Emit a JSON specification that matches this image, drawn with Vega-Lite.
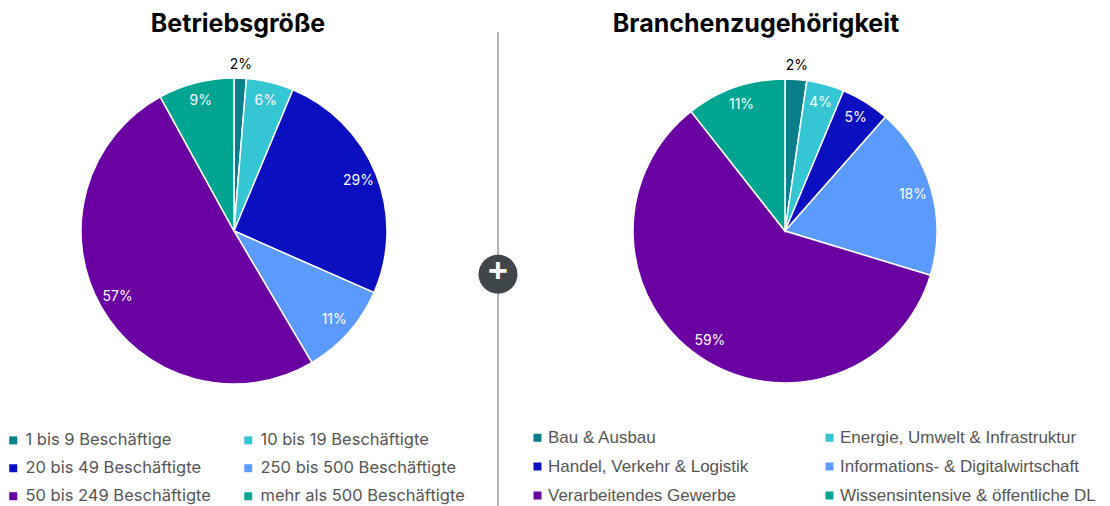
{
  "$schema": "https://vega.github.io/schema/vega-lite/v6.json",
  "padding": {"top": 12, "left": 0, "right": 0, "bottom": 0},
  "spacing": 0,
  "bounds": "flush",
  "config": {
    "view": {"stroke": null},
    "font": "Inter",
    "legend": {
      "orient": "none",
      "columns": 2,
      "symbolType": "square",
      "symbolSize": 64,
      "symbolStrokeWidth": 0,
      "labelFontSize": 16.5,
      "labelColor": "#555555",
      "labelFont": "Inter",
      "labelLimit": 0,
      "rowPadding": 11,
      "title": null
    }
  },
  "resolve": {"scale": {"color": "independent", "theta": "independent"}, "legend": {"color": "independent"}},
  "hconcat": [
    {
      "width": 468,
      "height": 398,
      "title": {"text": "Betriebsgröße", "font": "Inter", "fontSize": 25, "fontWeight": "bold", "color": "#000000", "anchor": "middle", "offset": -5, "dx": 4},
      "data": {"values": [
        {"cat": "1 bis 9 Beschäftige", "share": 1.3, "label": "2%"},
        {"cat": "10 bis 19 Beschäftigte", "share": 5.0, "label": "6%"},
        {"cat": "20 bis 49 Beschäftigte", "share": 25.3, "label": "29%"},
        {"cat": "250 bis 500 Beschäftigte", "share": 9.9, "label": "11%"},
        {"cat": "50 bis 249 Beschäftigte", "share": 50.5, "label": "57%"},
        {"cat": "mehr als 500 Beschäftigte", "share": 8.0, "label": "9%"}
      ]},
      "encoding": {
        "theta": {"field": "share", "type": "quantitative", "stack": true},
        "order": {"field": "cat", "type": "ordinal", "sort": "ascending"}
      },
      "layer": [
        {
          "mark": {"type": "arc", "outerRadius": 153, "stroke": "#ffffff", "strokeWidth": 1.5},
          "encoding": {
            "color": {
              "field": "cat", "type": "nominal",
              "scale": {
                "domain": ["1 bis 9 Beschäftige", "20 bis 49 Beschäftigte", "50 bis 249 Beschäftigte", "10 bis 19 Beschäftigte", "250 bis 500 Beschäftigte", "mehr als 500 Beschäftigte"],
                "range": ["#0a7f8c", "#0a0fbf", "#6a00a2", "#34c6d3", "#5b9bff", "#00a591"]
              },
              "legend": {"legendX": 5, "legendY": 400, "columnPadding": 29}
            }
          }
        },
        {
          "mark": {"type": "text", "radius": 134, "fontSize": 14, "fill": "#ffffff"},
          "encoding": {
            "text": {"field": "label"},
            "opacity": {"condition": {"test": "datum.share < 3", "value": 0}, "value": 1}
          }
        },
        {
          "mark": {"type": "text", "radius": 166, "fontSize": 14, "fill": "#000000"},
          "encoding": {
            "text": {"field": "label"},
            "opacity": {"condition": {"test": "datum.share < 3", "value": 1}, "value": 0}
          }
        }
      ]
    },
    {
      "width": 60,
      "height": 475,
      "data": {"values": [{"start": 0, "end": 1, "mid": 0.49, "x": 0.5}]},
      "encoding": {
        "x": {"field": "x", "type": "quantitative", "scale": {"domain": [0, 1]}, "axis": null}
      },
      "layer": [
        {
          "mark": {"type": "rule", "color": "#666666", "strokeWidth": 1},
          "encoding": {
            "y": {"field": "start", "type": "quantitative", "scale": {"domain": [0, 1]}, "axis": null},
            "y2": {"field": "end"}
          }
        },
        {
          "mark": {"type": "point", "shape": "circle", "size": 1520, "filled": true, "fill": "#40474b", "opacity": 1},
          "encoding": {
            "y": {"field": "mid", "type": "quantitative", "scale": {"domain": [0, 1]}, "axis": null}
          }
        },
        {
          "mark": {"type": "text", "text": "+", "font": "Liberation Sans", "fontSize": 34, "fontWeight": "bold", "color": "#ffffff", "baseline": "middle", "dy": -2},
          "encoding": {
            "y": {"field": "mid", "type": "quantitative", "scale": {"domain": [0, 1]}, "axis": null}
          }
        }
      ]
    },
    {
      "width": 514,
      "height": 398,
      "title": {"text": "Branchenzugehörigkeit", "font": "Inter", "fontSize": 25, "fontWeight": "bold", "color": "#000000", "anchor": "middle", "offset": -5, "dx": -29},
      "data": {"values": [
        {"branche": "Bau & Ausbau", "share": 2.3, "label": "2%"},
        {"branche": "Energie, Umwelt & Infrastruktur", "share": 4.0, "label": "4%"},
        {"branche": "Handel, Verkehr & Logistik", "share": 5.2, "label": "5%"},
        {"branche": "Informations- & Digitalwirtschaft", "share": 18.2, "label": "18%"},
        {"branche": "Verarbeitendes Gewerbe", "share": 59.7, "label": "59%"},
        {"branche": "Wissensintensive & öffentliche DL", "share": 10.6, "label": "11%"}
      ]},
      "encoding": {
        "theta": {"field": "share", "type": "quantitative", "stack": true},
        "order": {"field": "branche", "type": "ordinal", "sort": "ascending"}
      },
      "layer": [
        {
          "mark": {"type": "arc", "outerRadius": 152, "stroke": "#ffffff", "strokeWidth": 1.5},
          "encoding": {
            "color": {
              "field": "branche", "type": "nominal",
              "scale": {
                "domain": ["Bau & Ausbau", "Handel, Verkehr & Logistik", "Verarbeitendes Gewerbe", "Energie, Umwelt & Infrastruktur", "Informations- & Digitalwirtschaft", "Wissensintensive & öffentliche DL"],
                "range": ["#0a7f8c", "#0a0fbf", "#6a00a2", "#34c6d3", "#5b9bff", "#00a591"]
              },
              "legend": {"legendX": 1, "legendY": 397, "columnPadding": 72, "rowPadding": 11, "labelFont": "Liberation Sans", "labelFontSize": 17, "labelOffset": 2}
            }
          }
        },
        {
          "mark": {"type": "text", "radius": 133, "fontSize": 14, "fill": "#ffffff"},
          "encoding": {
            "text": {"field": "label"},
            "opacity": {"condition": {"test": "datum.share < 3", "value": 0}, "value": 1}
          }
        },
        {
          "mark": {"type": "text", "radius": 165, "fontSize": 14, "fill": "#000000"},
          "encoding": {
            "text": {"field": "label"},
            "opacity": {"condition": {"test": "datum.share < 3", "value": 1}, "value": 0}
          }
        }
      ]
    }
  ]
}
